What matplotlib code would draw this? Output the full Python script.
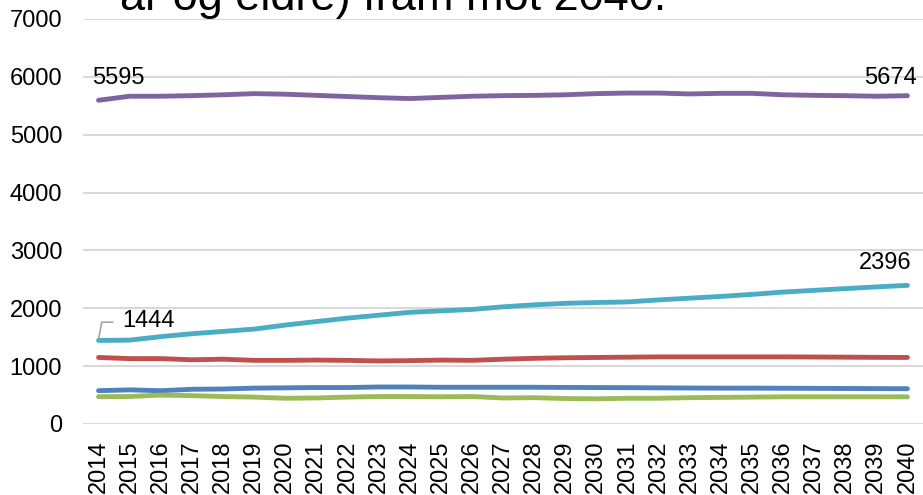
import matplotlib.pyplot as plt
import numpy as np

plt.rcParams['font.family'] = ['Liberation Sans', 'DejaVu Sans']

years = [str(y) for y in range(2014, 2041)]

purple = [5595, 5665, 5665, 5675, 5690, 5710, 5700, 5680, 5660, 5640, 5625, 5645, 5665,
          5675, 5680, 5690, 5710, 5720, 5720, 5705, 5715, 5715, 5690, 5680, 5675, 5665, 5674]
cyan = [1444, 1450, 1510, 1560, 1600, 1640, 1710, 1770, 1830, 1880, 1930, 1955, 1980,
        2025, 2060, 2085, 2100, 2110, 2145, 2175, 2205, 2240, 2280, 2310, 2340, 2370, 2396]
red = [1150, 1130, 1130, 1110, 1120, 1100, 1100, 1105, 1100, 1090, 1095, 1105, 1100,
       1120, 1135, 1145, 1150, 1155, 1160, 1160, 1160, 1160, 1160, 1158, 1155, 1152, 1150]
blue = [576, 590, 575, 600, 605, 620, 625, 630, 630, 640, 640, 635, 635,
        635, 635, 632, 630, 628, 625, 622, 620, 620, 618, 616, 614, 612, 610]
green = [472, 475, 500, 490, 475, 465, 445, 450, 465, 475, 475, 470, 475,
         450, 455, 440, 435, 445, 445, 455, 460, 465, 470, 470, 470, 470, 470]

series = [(purple, '#8064A2'), (cyan, '#4BACC6'), (red, '#C0504D'),
          (blue, '#4F81BD'), (green, '#9BBB59')]

fig = plt.figure(figsize=(9.23, 4.95), dpi=100)
ax = fig.add_axes([83/923, 1 - 424/495, 840/923, 405/495])

x = np.arange(len(years))
for vals, col in series:
    ax.plot(x, vals, color=col, lw=3.5, solid_capstyle='round', zorder=3)

ax.set_xlim(-0.5, len(years) - 0.5)
ax.set_ylim(0, 7000)
ax.set_yticks(range(0, 7001, 1000))
ax.set_xticks(x)
ax.set_xticklabels(years, rotation=90)
ax.tick_params(axis='both', length=0, labelsize=17)
ax.tick_params(axis='y', pad=15)
ax.tick_params(axis='x', pad=12)
ax.grid(axis='y', color='#D9D9D9', lw=1.5)
ax.set_axisbelow(True)
for s in ax.spines.values():
    s.set_visible(False)

# data labels
ax.annotate(str(purple[0]), (0, purple[0]), xytext=(-5, 8), textcoords='offset points',
            ha='left', va='bottom', fontsize=17)
ax.annotate(str(purple[-1]), (26, purple[-1]), xytext=(7, 5), textcoords='offset points',
            ha='right', va='bottom', fontsize=17)
ax.annotate(str(cyan[-1]), (26, cyan[-1]), xytext=(3, 8), textcoords='offset points',
            ha='right', va='bottom', fontsize=17)
ax.annotate(str(cyan[0]), (0, cyan[0]), xytext=(17, 6), textcoords='offset points',
            ha='left', va='bottom', fontsize=17)
# leader line for 1444
ax.plot([0, 0.1, 0.45], [cyan[0] + 20, 1760, 1760], color='#A6A6A6', lw=1.2, zorder=2)

fig.text(120/923, 1 - 10/495, 'år og eldre) fram mot 2040.', fontsize=32.5, ha='left',
         va='baseline')

fig.savefig('out.png', dpi=100)
